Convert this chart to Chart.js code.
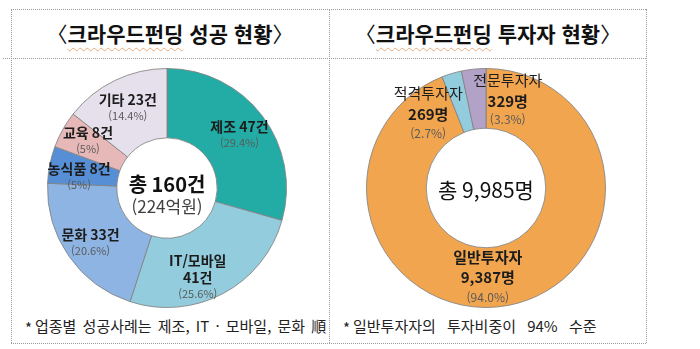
<!DOCTYPE html>
<html lang="ko">
<head>
<meta charset="utf-8">
<title>크라우드펀딩 현황</title>
<script src="https://cdn.jsdelivr.net/npm/chart.js@4.4.1/dist/chart.umd.min.js"></script>
<style>
    html, body { margin: 0; padding: 0; background: #fff; }
    body {
        width: 700px; height: 349px; position: relative; overflow: hidden;
        font-family: "Noto Sans CJK KR", "Noto Sans", sans-serif; color: #1a1a1a;
    }
    .hline { position: absolute; height: 0; border-top: 1px dotted #9c9c9c; }
    .vline { position: absolute; width: 0; border-left: 1px dotted #9c9c9c; }
    .title {
        position: absolute; top: 9px; height: 49px; line-height: 48px;
        text-align: center; font-size: 21px; font-weight: 700; color: #111;
    }
    .title .br { font-weight: 400; }
    .title .sq {
        text-decoration: underline wavy rgba(226, 140, 70, 0.7);
        text-decoration-thickness: 1px; text-underline-offset: 5px;
    }
    .note { position: absolute; top: 315px; font-size: 15px; color: #222; white-space: nowrap; }
    .note .star { position: relative; top: 2px; margin-right: 3px; }
    canvas { position: absolute; }
</style>
</head>
<body>

<!-- 표 테두리 -->
<div class="hline" style="left:11px; top:9px; width:635px;"></div>
<div class="hline" style="left:3px; top:58px; width:643px;"></div>
<div class="hline" style="left:11px; top:343px; width:635px;"></div>
<div class="vline" style="left:11px; top:9px; height:334px;"></div>
<div class="vline" style="left:329px; top:9px; height:334px;"></div>
<div class="vline" style="left:646px; top:9px; height:334px;"></div>

<div class="title" style="left:11px; width:318px;"><span class="br">〈</span><span class="sq">크라우드펀딩</span> 성공 현황<span class="br">〉</span></div>
<div class="title" style="left:330px; width:316px;"><span class="br">〈</span><span class="sq">크라우드펀딩</span> 투자자 현황<span class="br">〉</span></div>

<canvas id="successChart" width="318" height="257" style="left:11px; top:58px;"></canvas>
<canvas id="investorChart" width="316" height="257" style="left:330px; top:58px;"></canvas>

<div class="note" style="left:25px; word-spacing:2px;"><span class="star">*</span>업종별 성공사례는 제조, IT · 모바일, 문화 順</div>
<div class="note" style="left:343px; word-spacing:7px;"><span class="star">*</span>일반투자자의 투자비중이 94% 수준</div>

<script>
// 업종별 성공 현황 (건수)
const industries = ['제조', 'IT/모바일', '문화', '농식품', '교육', '기타'];
const industryCounts = [47, 41, 33, 8, 8, 23];
const industryPctLabels = ['29.4', '25.6', '20.6', '5', '5', '14.4'];
const fundingAmount = 224; // 억원

// 투자자 유형별 현황 (명)
const investorTypes = ['일반투자자', '적격투자자', '전문투자자'];
const investorCounts = [9387, 269, 329];
const investorPctLabels = ['94.0', '2.7', '3.3'];

const industryColors = ['#23aca5', '#93cddd', '#8eb4e3', '#568fd6', '#e6b9b8', '#e6e0ec'];
const investorColors = ['#f2a54f', '#93cddd', '#b3a2c7'];

const FONT = '"Noto Sans CJK KR", "Noto Sans", sans-serif';
const INK = '#1c1c1c';
const GRAY = '#5a5a5a';

/**
 * 각 조각의 가운데 각도에서 r(바깥 반지름 비율)만큼 떨어진 곳에 라벨을 그린다.
 * places[i] = { r, dx, dy }, lines(i) = [{ text, font, color, h }]
 */
const arcLabels = {
    id: 'arcLabels',
    afterDatasetsDraw(chart, args, opts) {
        const ctx = chart.ctx;
        const meta = chart.getDatasetMeta(0);
        ctx.save();
        ctx.textAlign = 'center';
        ctx.textBaseline = 'middle';
        meta.data.forEach((arc, i) => {
            const p = arc.getProps(['x', 'y', 'startAngle', 'endAngle', 'outerRadius'], true);
            const mid = (p.startAngle + p.endAngle) / 2;
            const place = opts.places[i];
            const r = p.outerRadius * place.r;
            const cx = p.x + Math.cos(mid) * r + place.dx;
            const cy = p.y + Math.sin(mid) * r + place.dy;
            const lines = opts.lines(i);
            const total = lines.reduce((s, l) => s + l.h, 0);
            let y = cy - total / 2;
            lines.forEach(l => {
                ctx.font = l.font;
                ctx.fillStyle = l.color;
                ctx.fillText(l.text, cx, y + l.h / 2);
                y += l.h;
            });
        });
        ctx.restore();
    }
};

// 도넛 가운데 합계 문구
const centerText = {
    id: 'centerText',
    afterDatasetsDraw(chart, args, opts) {
        const ctx = chart.ctx;
        const arc = chart.getDatasetMeta(0).data[0];
        if (!arc) return;
        const { x, y } = arc.getProps(['x', 'y'], true);
        const total = opts.lines.reduce((s, l) => s + l.h, 0);
        let ty = y - total / 2 + opts.shift;
        ctx.save();
        ctx.textAlign = 'center';
        ctx.textBaseline = 'middle';
        opts.lines.forEach(l => {
            ctx.font = l.font;
            ctx.fillStyle = l.color;
            ctx.fillText(l.text, x, ty + l.h / 2);
            ty += l.h;
        });
        ctx.restore();
    }
};

const sum = arr => arr.reduce((a, b) => a + b, 0);

function makeDoughnut(canvasId, labels, data, colors, cutout, padding, pluginOpts) {
    const ctx = document.getElementById(canvasId).getContext('2d');
    return new Chart(ctx, {
        type: 'doughnut',
        data: {
            labels: labels,
            datasets: [{
                data: data,
                backgroundColor: colors,
                borderColor: 'rgba(130, 130, 130, 0.85)',
                borderWidth: 1
            }]
        },
        options: {
            responsive: false,
            animation: false,
            cutout: cutout,
            layout: { padding: padding },
            plugins: {
                legend: { display: false },
                tooltip: { enabled: false },
                arcLabels: pluginOpts.arcLabels,
                centerText: pluginOpts.centerText
            }
        },
        plugins: [arcLabels, centerText]
    });
}

// 왼쪽: 업종별 성공 현황
const industryPlaces = [
    { r: 0.75, dx: 1, dy: 1 },
    { r: 0.83, dx: -16, dy: 2 },
    { r: 0.79, dx: 1, dy: 1 },
    { r: 0.75, dx: 0, dy: 6 },
    { r: 0.71, dx: -5, dy: -6 },
    { r: 0.79, dx: 2, dy: 5 }
];

makeDoughnut('successChart', industries, industryCounts, industryColors, '42%',
    { left: 36, right: 42, top: 10, bottom: 7 },
    {
        arcLabels: {
            places: industryPlaces,
            lines: i => {
                const bold = 'bold 14px ' + FONT;
                const pct = { text: '(' + industryPctLabels[i] + '%)', font: '11px ' + FONT, color: GRAY, h: 16 };
                if (industries[i] === 'IT/모바일') {
                    return [
                        { text: industries[i], font: bold, color: INK, h: 16.5 },
                        { text: industryCounts[i] + '건', font: bold, color: INK, h: 16.5 },
                        { text: pct.text, font: pct.font, color: GRAY, h: 16.5 }
                    ];
                }
                return [{ text: industries[i] + ' ' + industryCounts[i] + '건', font: bold, color: INK, h: 16 }, pct];
            }
        },
        centerText: {
            shift: 7,
            lines: [
                { text: '총 ' + sum(industryCounts) + '건', font: 'bold 20px ' + FONT, color: '#111', h: 24 },
                { text: '(' + fundingAmount + '억원)', font: '17px ' + FONT, color: '#404040', h: 22 }
            ]
        }
    });

// 오른쪽: 투자자 유형별 현황
const investorPlaces = [
    { r: 0.75, dx: -15, dy: 1 },
    { r: 0.75, dx: -32, dy: 10 },
    { r: 0.75, dx: 31, dy: 0 }
];

makeDoughnut('investorChart', investorTypes, investorCounts, investorColors, '50%',
    { left: 36, right: 40, top: 10, bottom: 7 },
    {
        arcLabels: {
            places: investorPlaces,
            lines: i => {
                const big = i === 0;
                return [
                    { text: investorTypes[i], font: (big ? 'bold ' : '') + '15px ' + FONT, color: INK, h: big ? 20 : 22 },
                    { text: investorCounts[i].toLocaleString('en-US') + '명', font: 'bold 15px ' + FONT, color: INK, h: 20 },
                    { text: '(' + investorPctLabels[i] + '%)', font: '12px ' + FONT, color: GRAY, h: big ? 20 : 18 }
                ];
            }
        },
        centerText: {
            shift: 2,
            lines: [
                { text: '총 ' + sum(investorCounts).toLocaleString('en-US') + '명', font: '21px ' + FONT, color: '#111', h: 26 }
            ]
        }
    });
</script>
</body>
</html>
